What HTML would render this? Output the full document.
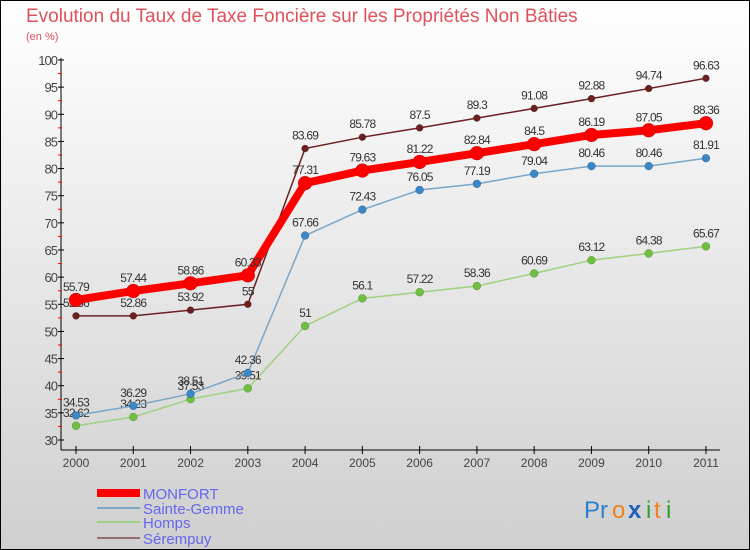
<!DOCTYPE html>
<html><head><meta charset="utf-8"><style>
body{margin:0;width:750px;height:550px;overflow:hidden;font-family:"Liberation Sans",sans-serif}
#c{position:absolute;left:0;top:0;width:748px;height:548px;border:1px solid #000;background:linear-gradient(#fff,#cfcfcf)}
</style></head><body>
<div id="c">
<svg id="s" width="750" height="550" style="position:absolute;left:-1px;top:-1px">
<text x="26" y="22" font-size="19" fill="#e0505a">Evolution du Taux de Taxe Foncière sur les Propriétés Non Bâties</text>
<text x="26" y="40" font-size="11" fill="#e0505a">(en %)</text>
<g id="ax"></g><g id="ser"></g>
<g>
<rect x="97" y="489" width="43" height="8" fill="#f00"/>
<text x="143" y="499" font-size="15" fill="#6666ee">MONFORT</text>
<line x1="97" y1="508" x2="140" y2="508" stroke="#7aa6c8" stroke-width="2"/>
<text x="143" y="514" font-size="15" fill="#6666ee">Sainte-Gemme</text>
<line x1="97" y1="522" x2="140" y2="522" stroke="#a0d080" stroke-width="2"/>
<text x="143" y="528" font-size="15" fill="#6666ee">Homps</text>
<line x1="97" y1="538" x2="140" y2="538" stroke="#907070" stroke-width="2"/>
<text x="143" y="544" font-size="15" fill="#6666ee">Sérempuy</text>
</g>
<g font-size="24">
<text x="584" y="518" fill="#2a7fd0">Pr</text><text x="612" y="518" fill="#f08020">o</text><text x="628" y="518" fill="#2060c0" font-weight="bold">x</text><text x="646" y="518" fill="#30a030">i</text><text x="654" y="518" fill="#f08020">t</text><text x="666" y="518" fill="#30a030">i</text>
</g>
</svg></div>
<script>
const years=["2000","2001","2002","2003","2004","2005","2006","2007","2008","2009","2010","2011"];
const monfort=[55.79,57.44,58.86,60.33,77.31,79.63,81.22,82.84,84.5,86.19,87.05,88.36];
const sainteGemme=[34.53,36.29,38.51,42.36,67.66,72.43,76.05,77.19,79.04,80.46,80.46,81.91];
const homps=[32.62,34.23,37.53,39.51,51,56.1,57.22,58.36,60.69,63.12,64.38,65.67];
const serempuy=[52.86,52.86,53.92,55,83.69,85.78,87.5,89.3,91.08,92.88,94.74,96.63];
const yTicks=[30,35,40,45,50,55,60,65,70,75,80,85,90,95,100];
const NS="http://www.w3.org/2000/svg";
const X=i=>76+i*57.27, Y=v=>440-(v-30)*380/70;
function mk(t,a,p){const e=document.createElementNS(NS,t);for(const k in a)e.setAttribute(k,a[k]);p.appendChild(e);return e;}
const ax=document.getElementById('ax');
let l=mk('line',{x1:61,y1:58,x2:61,y2:450,stroke:'#000'},ax);


l=mk('line',{x1:61,y1:450,x2:720,y2:450,stroke:'#000'},ax);


yTicks.forEach((v,i)=>{
 mk('line',{x1:58,y1:Y(v),x2:64,y2:Y(v),stroke:'#000'},ax);
 if(i<yTicks.length-1) mk('line',{x1:58,y1:Y(v+2.5),x2:62,y2:Y(v+2.5),stroke:'#f00'},ax);
 const t=mk('text',{x:57,y:Y(v)+5,'font-size':13,'text-anchor':'end',fill:'#444','letter-spacing':'-1'},ax);t.textContent=v;
 
 
});
years.forEach((y,i)=>{
 mk('line',{x1:X(i),y1:446,x2:X(i),y2:454,stroke:'#000'},ax);
 const t=mk('text',{x:X(i),y:467,'font-size':12,'text-anchor':'middle',fill:'#444'},ax);t.textContent=y;
 
 
});
const ser=document.getElementById('ser');
const series=[[serempuy,'#6a2020','#6a2020',1.5,3.5,'serempuy'],[homps,'#a0d080','#70c040',1.5,4,'homps'],[sainteGemme,'#7aa6c8','#3a88c8',1.5,4,'sainte-gemme'],[monfort,'#f00','#f00',8,7,'monfort']];
series.forEach(([d,lc,pc,w,r,n])=>{
 const g=mk('g',{},ser);
 
 
 const pl=mk('polyline',{points:d.map((v,i)=>X(i)+','+Y(v)).join(' '),fill:'none',stroke:lc,'stroke-width':w},g);
 
 
 d.forEach((v,i)=>{
  const c=mk('circle',{cx:X(i),cy:Y(v),r:r,fill:pc,stroke:'rgba(0,0,0,0.3)','stroke-width':0.5},g);
  
  
  const t=mk('text',{x:X(i),y:Y(v)-9,'font-size':12,'text-anchor':'middle',fill:'#333','letter-spacing':'-0.8'},g);
  t.textContent=v;
  
  
 });
});
</script></body></html>
